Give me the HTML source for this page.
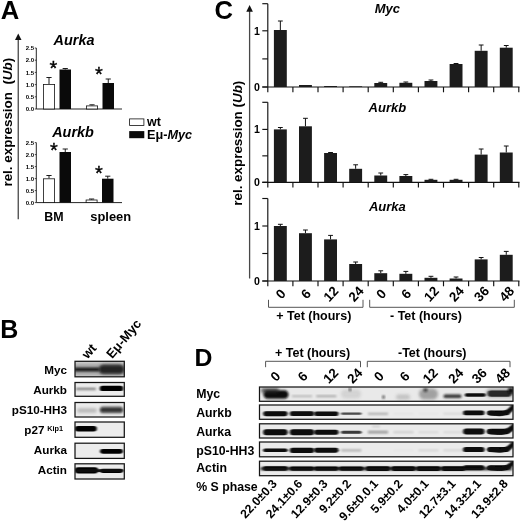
<!DOCTYPE html>
<html lang="en">
<head>
<meta charset="utf-8">
<title>Figure</title>
<style>
html,body{margin:0;padding:0;background:#fff;}
svg{display:block;filter:blur(0.4px);}
text{font-family:"Liberation Sans",sans-serif;}
</style>
</head>
<body>
<svg width="520" height="522" viewBox="0 0 520 522">
<rect width="520" height="522" fill="#fff"/>
<text x="0.8" y="19" font-size="25.6" font-weight="bold" font-style="normal" text-anchor="start" fill="#000">A</text>
<line x1="18.25" y1="38" x2="18.25" y2="219.3" stroke="#484848" stroke-width="1.3"/>
<polygon points="18.25,33.5 15,40 21.5,40" fill="#111"/>
<text x="11.8" y="122.2" font-size="13.4" font-weight="bold" font-style="normal" text-anchor="middle" fill="#000" transform="rotate(-90 11.8 122.2)">rel. expression&#160; (<tspan font-style="italic">Ub</tspan>)</text>
<line x1="36.3" y1="48" x2="36.3" y2="109" stroke="#1a1a1a" stroke-width="0.95"/>
<line x1="36.3" y1="109" x2="122" y2="109" stroke="#1a1a1a" stroke-width="0.95"/>
<line x1="34.8" y1="109.0" x2="36.3" y2="109.0" stroke="#1a1a1a" stroke-width="0.8"/>
<text x="34.099999999999994" y="111.1" font-size="6" font-weight="bold" font-style="normal" text-anchor="end" fill="#000">0.0</text>
<line x1="34.8" y1="96.8" x2="36.3" y2="96.8" stroke="#1a1a1a" stroke-width="0.8"/>
<text x="34.099999999999994" y="98.9" font-size="6" font-weight="bold" font-style="normal" text-anchor="end" fill="#000">0.5</text>
<line x1="34.8" y1="84.6" x2="36.3" y2="84.6" stroke="#1a1a1a" stroke-width="0.8"/>
<text x="34.099999999999994" y="86.7" font-size="6" font-weight="bold" font-style="normal" text-anchor="end" fill="#000">1.0</text>
<line x1="34.8" y1="72.4" x2="36.3" y2="72.4" stroke="#1a1a1a" stroke-width="0.8"/>
<text x="34.099999999999994" y="74.5" font-size="6" font-weight="bold" font-style="normal" text-anchor="end" fill="#000">1.5</text>
<line x1="34.8" y1="60.2" x2="36.3" y2="60.2" stroke="#1a1a1a" stroke-width="0.8"/>
<text x="34.099999999999994" y="62.3" font-size="6" font-weight="bold" font-style="normal" text-anchor="end" fill="#000">2.0</text>
<line x1="34.8" y1="48.0" x2="36.3" y2="48.0" stroke="#1a1a1a" stroke-width="0.8"/>
<text x="34.099999999999994" y="50.1" font-size="6" font-weight="bold" font-style="normal" text-anchor="end" fill="#000">2.5</text>
<text x="74" y="44.7" font-size="14.4" font-weight="bold" font-style="italic" text-anchor="middle" fill="#000">Aurka</text>
<line x1="49.0" y1="77.5" x2="49.0" y2="84" stroke="#111" stroke-width="0.95"/>
<line x1="46.4" y1="77.5" x2="51.6" y2="77.5" stroke="#111" stroke-width="0.95"/>
<rect x="43.4" y="84.4" width="11.2" height="24.6" fill="#fff" stroke="#111" stroke-width="0.8"/>
<line x1="65.25" y1="68.5" x2="65.25" y2="69.5" stroke="#111" stroke-width="0.95"/>
<line x1="62.65" y1="68.5" x2="67.85" y2="68.5" stroke="#111" stroke-width="0.95"/>
<rect x="59.5" y="69.5" width="11.5" height="39.5" fill="#0a0a0a"/>
<line x1="92.0" y1="104.8" x2="92.0" y2="105.5" stroke="#111" stroke-width="0.95"/>
<line x1="89.4" y1="104.8" x2="94.6" y2="104.8" stroke="#111" stroke-width="0.95"/>
<rect x="86.4" y="105.9" width="11.2" height="3.1" fill="#fff" stroke="#111" stroke-width="0.8"/>
<line x1="108.25" y1="79" x2="108.25" y2="83" stroke="#111" stroke-width="0.95"/>
<line x1="105.65" y1="79" x2="110.85" y2="79" stroke="#111" stroke-width="0.95"/>
<rect x="102.5" y="83" width="11.5" height="26" fill="#0a0a0a"/>
<text x="53.5" y="74.5" font-size="20" font-weight="normal" font-style="normal" text-anchor="middle" fill="#000" stroke="#000" stroke-width="0.35">*</text>
<text x="99" y="80.7" font-size="20" font-weight="normal" font-style="normal" text-anchor="middle" fill="#000" stroke="#000" stroke-width="0.35">*</text>
<line x1="36.3" y1="142.6" x2="36.3" y2="202.6" stroke="#1a1a1a" stroke-width="0.95"/>
<line x1="36.3" y1="202.6" x2="122" y2="202.6" stroke="#1a1a1a" stroke-width="0.95"/>
<line x1="34.8" y1="202.6" x2="36.3" y2="202.6" stroke="#1a1a1a" stroke-width="0.8"/>
<text x="34.099999999999994" y="204.7" font-size="6" font-weight="bold" font-style="normal" text-anchor="end" fill="#000">0.0</text>
<line x1="34.8" y1="190.6" x2="36.3" y2="190.6" stroke="#1a1a1a" stroke-width="0.8"/>
<text x="34.099999999999994" y="192.7" font-size="6" font-weight="bold" font-style="normal" text-anchor="end" fill="#000">0.5</text>
<line x1="34.8" y1="178.6" x2="36.3" y2="178.6" stroke="#1a1a1a" stroke-width="0.8"/>
<text x="34.099999999999994" y="180.7" font-size="6" font-weight="bold" font-style="normal" text-anchor="end" fill="#000">1.0</text>
<line x1="34.8" y1="166.6" x2="36.3" y2="166.6" stroke="#1a1a1a" stroke-width="0.8"/>
<text x="34.099999999999994" y="168.7" font-size="6" font-weight="bold" font-style="normal" text-anchor="end" fill="#000">1.5</text>
<line x1="34.8" y1="154.6" x2="36.3" y2="154.6" stroke="#1a1a1a" stroke-width="0.8"/>
<text x="34.099999999999994" y="156.7" font-size="6" font-weight="bold" font-style="normal" text-anchor="end" fill="#000">2.0</text>
<line x1="34.8" y1="142.6" x2="36.3" y2="142.6" stroke="#1a1a1a" stroke-width="0.8"/>
<text x="34.099999999999994" y="144.7" font-size="6" font-weight="bold" font-style="normal" text-anchor="end" fill="#000">2.5</text>
<text x="73" y="137" font-size="14.4" font-weight="bold" font-style="italic" text-anchor="middle" fill="#000">Aurkb</text>
<line x1="49.0" y1="175.5" x2="49.0" y2="178.4" stroke="#111" stroke-width="0.95"/>
<line x1="46.4" y1="175.5" x2="51.6" y2="175.5" stroke="#111" stroke-width="0.95"/>
<rect x="43.4" y="178.8" width="11.2" height="23.79999999999999" fill="#fff" stroke="#111" stroke-width="0.8"/>
<line x1="65.25" y1="149" x2="65.25" y2="152" stroke="#111" stroke-width="0.95"/>
<line x1="62.65" y1="149" x2="67.85" y2="149" stroke="#111" stroke-width="0.95"/>
<rect x="59.5" y="152" width="11.5" height="50.599999999999994" fill="#0a0a0a"/>
<line x1="91.6" y1="199" x2="91.6" y2="199.6" stroke="#111" stroke-width="0.95"/>
<line x1="89.0" y1="199" x2="94.19999999999999" y2="199" stroke="#111" stroke-width="0.95"/>
<rect x="86.10000000000001" y="200.0" width="10.999999999999996" height="2.6" fill="#fff" stroke="#111" stroke-width="0.8"/>
<line x1="107.75" y1="176.2" x2="107.75" y2="178.7" stroke="#111" stroke-width="0.95"/>
<line x1="105.15" y1="176.2" x2="110.35" y2="176.2" stroke="#111" stroke-width="0.95"/>
<rect x="102" y="178.7" width="11.5" height="23.900000000000006" fill="#0a0a0a"/>
<text x="54" y="157" font-size="20" font-weight="normal" font-style="normal" text-anchor="middle" fill="#000" stroke="#000" stroke-width="0.35">*</text>
<text x="99" y="179.8" font-size="20" font-weight="normal" font-style="normal" text-anchor="middle" fill="#000" stroke="#000" stroke-width="0.35">*</text>
<text x="53.9" y="221.3" font-size="12.4" font-weight="bold" font-style="normal" text-anchor="middle" fill="#000">BM</text>
<text x="110.7" y="221.3" font-size="12.9" font-weight="bold" font-style="normal" text-anchor="middle" fill="#000">spleen</text>
<rect x="129.6" y="118.9" width="14.3" height="6.6" fill="#fff" stroke="#111" stroke-width="0.8"/>
<rect x="129.2" y="131.1" width="15.1" height="7.1" fill="#0a0a0a"/>
<text x="147" y="125.9" font-size="12.5" font-weight="bold" font-style="normal" text-anchor="start" fill="#000">wt</text>
<text x="147" y="138.6" font-size="12.7" font-weight="bold" font-style="normal" text-anchor="start" fill="#000">E&#956;-<tspan font-style="italic">Myc</tspan></text>
<text x="214.5" y="19.3" font-size="25.6" font-weight="bold" font-style="normal" text-anchor="start" fill="#000">C</text>
<line x1="249.6" y1="10" x2="249.6" y2="278.5" stroke="#484848" stroke-width="1.3"/>
<polygon points="249.6,5 246.3,11.7 252.9,11.7" fill="#111"/>
<text x="241.9" y="143.2" font-size="13.4" font-weight="bold" font-style="normal" text-anchor="middle" fill="#000" transform="rotate(-90 241.9 143.2)">rel. expression (<tspan font-style="italic">Ub</tspan>)</text>
<line x1="267.8" y1="3.7" x2="267.8" y2="87" stroke="#111" stroke-width="1.15"/>
<line x1="262.3" y1="87" x2="519.5" y2="87" stroke="#111" stroke-width="1.15"/>
<line x1="262.3" y1="3.7" x2="267.8" y2="3.7" stroke="#111" stroke-width="1.15"/>
<line x1="262.3" y1="30.8" x2="267.8" y2="30.8" stroke="#111" stroke-width="1.15"/>
<line x1="262.3" y1="58.9" x2="267.8" y2="58.9" stroke="#111" stroke-width="1.15"/>
<line x1="262.3" y1="87" x2="267.8" y2="87" stroke="#111" stroke-width="1.15"/>
<text x="259.8" y="34.6" font-size="10.6" font-weight="bold" font-style="normal" text-anchor="end" fill="#000">1</text>
<text x="259.8" y="90.8" font-size="10.6" font-weight="bold" font-style="normal" text-anchor="end" fill="#000">0</text>
<line x1="267.8" y1="87" x2="267.8" y2="92.3" stroke="#111" stroke-width="1.15"/>
<line x1="292.90000000000003" y1="87" x2="292.90000000000003" y2="92.3" stroke="#111" stroke-width="1.15"/>
<line x1="318.0" y1="87" x2="318.0" y2="92.3" stroke="#111" stroke-width="1.15"/>
<line x1="343.1" y1="87" x2="343.1" y2="92.3" stroke="#111" stroke-width="1.15"/>
<line x1="368.20000000000005" y1="87" x2="368.20000000000005" y2="92.3" stroke="#111" stroke-width="1.15"/>
<line x1="393.3" y1="87" x2="393.3" y2="92.3" stroke="#111" stroke-width="1.15"/>
<line x1="418.40000000000003" y1="87" x2="418.40000000000003" y2="92.3" stroke="#111" stroke-width="1.15"/>
<line x1="443.5" y1="87" x2="443.5" y2="92.3" stroke="#111" stroke-width="1.15"/>
<line x1="468.6" y1="87" x2="468.6" y2="92.3" stroke="#111" stroke-width="1.15"/>
<line x1="493.70000000000005" y1="87" x2="493.70000000000005" y2="92.3" stroke="#111" stroke-width="1.15"/>
<line x1="518.8" y1="87" x2="518.8" y2="92.3" stroke="#111" stroke-width="1.15"/>
<text x="387.4" y="12.5" font-size="13" font-weight="bold" font-style="italic" text-anchor="middle" fill="#000">Myc</text>
<line x1="280.35" y1="21" x2="280.35" y2="30" stroke="#111" stroke-width="1"/>
<line x1="277.95000000000005" y1="21" x2="282.75" y2="21" stroke="#111" stroke-width="1"/>
<rect x="273.90000000000003" y="30" width="12.9" height="57" fill="#1c1c1c"/>
<rect x="299.00000000000006" y="85" width="12.9" height="2" fill="#1c1c1c"/>
<rect x="324.1" y="86" width="12.9" height="1" fill="#1c1c1c"/>
<rect x="349.20000000000005" y="86.3" width="12.9" height="0.7000000000000028" fill="#1c1c1c"/>
<line x1="380.75" y1="82.3" x2="380.75" y2="83" stroke="#111" stroke-width="1"/>
<line x1="378.35" y1="82.3" x2="383.15" y2="82.3" stroke="#111" stroke-width="1"/>
<rect x="374.3" y="83" width="12.9" height="4" fill="#1c1c1c"/>
<line x1="405.85" y1="82" x2="405.85" y2="82.8" stroke="#111" stroke-width="1"/>
<line x1="403.45000000000005" y1="82" x2="408.25" y2="82" stroke="#111" stroke-width="1"/>
<rect x="399.40000000000003" y="82.8" width="12.9" height="4.200000000000003" fill="#1c1c1c"/>
<line x1="430.95000000000005" y1="80" x2="430.95000000000005" y2="81" stroke="#111" stroke-width="1"/>
<line x1="428.55000000000007" y1="80" x2="433.35" y2="80" stroke="#111" stroke-width="1"/>
<rect x="424.50000000000006" y="81" width="12.9" height="6" fill="#1c1c1c"/>
<line x1="456.05" y1="63.5" x2="456.05" y2="64" stroke="#111" stroke-width="1"/>
<line x1="453.65000000000003" y1="63.5" x2="458.45" y2="63.5" stroke="#111" stroke-width="1"/>
<rect x="449.6" y="64" width="12.9" height="23" fill="#1c1c1c"/>
<line x1="481.15000000000003" y1="45" x2="481.15000000000003" y2="50.8" stroke="#111" stroke-width="1"/>
<line x1="478.75000000000006" y1="45" x2="483.55" y2="45" stroke="#111" stroke-width="1"/>
<rect x="474.70000000000005" y="50.8" width="12.9" height="36.2" fill="#1c1c1c"/>
<line x1="506.25" y1="45.5" x2="506.25" y2="47.7" stroke="#111" stroke-width="1"/>
<line x1="503.85" y1="45.5" x2="508.65" y2="45.5" stroke="#111" stroke-width="1"/>
<rect x="499.8" y="47.7" width="12.9" height="39.3" fill="#1c1c1c"/>
<line x1="267.8" y1="102.3" x2="267.8" y2="182.3" stroke="#111" stroke-width="1.15"/>
<line x1="262.3" y1="182.3" x2="519.5" y2="182.3" stroke="#111" stroke-width="1.15"/>
<line x1="262.3" y1="102.3" x2="267.8" y2="102.3" stroke="#111" stroke-width="1.15"/>
<line x1="262.3" y1="129.4" x2="267.8" y2="129.4" stroke="#111" stroke-width="1.15"/>
<line x1="262.3" y1="155.85000000000002" x2="267.8" y2="155.85000000000002" stroke="#111" stroke-width="1.15"/>
<line x1="262.3" y1="182.3" x2="267.8" y2="182.3" stroke="#111" stroke-width="1.15"/>
<text x="259.8" y="133.20000000000002" font-size="10.6" font-weight="bold" font-style="normal" text-anchor="end" fill="#000">1</text>
<text x="259.8" y="186.10000000000002" font-size="10.6" font-weight="bold" font-style="normal" text-anchor="end" fill="#000">0</text>
<line x1="267.8" y1="182.3" x2="267.8" y2="187.60000000000002" stroke="#111" stroke-width="1.15"/>
<line x1="292.90000000000003" y1="182.3" x2="292.90000000000003" y2="187.60000000000002" stroke="#111" stroke-width="1.15"/>
<line x1="318.0" y1="182.3" x2="318.0" y2="187.60000000000002" stroke="#111" stroke-width="1.15"/>
<line x1="343.1" y1="182.3" x2="343.1" y2="187.60000000000002" stroke="#111" stroke-width="1.15"/>
<line x1="368.20000000000005" y1="182.3" x2="368.20000000000005" y2="187.60000000000002" stroke="#111" stroke-width="1.15"/>
<line x1="393.3" y1="182.3" x2="393.3" y2="187.60000000000002" stroke="#111" stroke-width="1.15"/>
<line x1="418.40000000000003" y1="182.3" x2="418.40000000000003" y2="187.60000000000002" stroke="#111" stroke-width="1.15"/>
<line x1="443.5" y1="182.3" x2="443.5" y2="187.60000000000002" stroke="#111" stroke-width="1.15"/>
<line x1="468.6" y1="182.3" x2="468.6" y2="187.60000000000002" stroke="#111" stroke-width="1.15"/>
<line x1="493.70000000000005" y1="182.3" x2="493.70000000000005" y2="187.60000000000002" stroke="#111" stroke-width="1.15"/>
<line x1="518.8" y1="182.3" x2="518.8" y2="187.60000000000002" stroke="#111" stroke-width="1.15"/>
<text x="387.4" y="111.5" font-size="13" font-weight="bold" font-style="italic" text-anchor="middle" fill="#000">Aurkb</text>
<line x1="280.35" y1="127.5" x2="280.35" y2="129.4" stroke="#111" stroke-width="1"/>
<line x1="277.95000000000005" y1="127.5" x2="282.75" y2="127.5" stroke="#111" stroke-width="1"/>
<rect x="273.90000000000003" y="129.4" width="12.9" height="52.900000000000006" fill="#1c1c1c"/>
<line x1="305.45000000000005" y1="118.3" x2="305.45000000000005" y2="126.3" stroke="#111" stroke-width="1"/>
<line x1="303.05000000000007" y1="118.3" x2="307.85" y2="118.3" stroke="#111" stroke-width="1"/>
<rect x="299.00000000000006" y="126.3" width="12.9" height="56.000000000000014" fill="#1c1c1c"/>
<line x1="330.55" y1="152.5" x2="330.55" y2="153" stroke="#111" stroke-width="1"/>
<line x1="328.15000000000003" y1="152.5" x2="332.95" y2="152.5" stroke="#111" stroke-width="1"/>
<rect x="324.1" y="153" width="12.9" height="29.30000000000001" fill="#1c1c1c"/>
<line x1="355.65000000000003" y1="164.8" x2="355.65000000000003" y2="168.8" stroke="#111" stroke-width="1"/>
<line x1="353.25000000000006" y1="164.8" x2="358.05" y2="164.8" stroke="#111" stroke-width="1"/>
<rect x="349.20000000000005" y="168.8" width="12.9" height="13.5" fill="#1c1c1c"/>
<line x1="380.75" y1="173" x2="380.75" y2="175.5" stroke="#111" stroke-width="1"/>
<line x1="378.35" y1="173" x2="383.15" y2="173" stroke="#111" stroke-width="1"/>
<rect x="374.3" y="175.5" width="12.9" height="6.800000000000011" fill="#1c1c1c"/>
<line x1="405.85" y1="174.6" x2="405.85" y2="176" stroke="#111" stroke-width="1"/>
<line x1="403.45000000000005" y1="174.6" x2="408.25" y2="174.6" stroke="#111" stroke-width="1"/>
<rect x="399.40000000000003" y="176" width="12.9" height="6.300000000000011" fill="#1c1c1c"/>
<line x1="430.95000000000005" y1="179.3" x2="430.95000000000005" y2="179.8" stroke="#111" stroke-width="1"/>
<line x1="428.55000000000007" y1="179.3" x2="433.35" y2="179.3" stroke="#111" stroke-width="1"/>
<rect x="424.50000000000006" y="179.8" width="12.9" height="2.5" fill="#1c1c1c"/>
<line x1="456.05" y1="179.3" x2="456.05" y2="179.8" stroke="#111" stroke-width="1"/>
<line x1="453.65000000000003" y1="179.3" x2="458.45" y2="179.3" stroke="#111" stroke-width="1"/>
<rect x="449.6" y="179.8" width="12.9" height="2.5" fill="#1c1c1c"/>
<line x1="481.15000000000003" y1="149" x2="481.15000000000003" y2="154.6" stroke="#111" stroke-width="1"/>
<line x1="478.75000000000006" y1="149" x2="483.55" y2="149" stroke="#111" stroke-width="1"/>
<rect x="474.70000000000005" y="154.6" width="12.9" height="27.700000000000017" fill="#1c1c1c"/>
<line x1="506.25" y1="146" x2="506.25" y2="152.5" stroke="#111" stroke-width="1"/>
<line x1="503.85" y1="146" x2="508.65" y2="146" stroke="#111" stroke-width="1"/>
<rect x="499.8" y="152.5" width="12.9" height="29.80000000000001" fill="#1c1c1c"/>
<line x1="267.8" y1="198.5" x2="267.8" y2="281" stroke="#111" stroke-width="1.15"/>
<line x1="262.3" y1="281" x2="519.5" y2="281" stroke="#111" stroke-width="1.15"/>
<line x1="262.3" y1="198.5" x2="267.8" y2="198.5" stroke="#111" stroke-width="1.15"/>
<line x1="262.3" y1="226" x2="267.8" y2="226" stroke="#111" stroke-width="1.15"/>
<line x1="262.3" y1="253.5" x2="267.8" y2="253.5" stroke="#111" stroke-width="1.15"/>
<line x1="262.3" y1="281" x2="267.8" y2="281" stroke="#111" stroke-width="1.15"/>
<text x="259.8" y="229.8" font-size="10.6" font-weight="bold" font-style="normal" text-anchor="end" fill="#000">1</text>
<text x="259.8" y="284.8" font-size="10.6" font-weight="bold" font-style="normal" text-anchor="end" fill="#000">0</text>
<line x1="267.8" y1="281" x2="267.8" y2="286.3" stroke="#111" stroke-width="1.15"/>
<line x1="292.90000000000003" y1="281" x2="292.90000000000003" y2="286.3" stroke="#111" stroke-width="1.15"/>
<line x1="318.0" y1="281" x2="318.0" y2="286.3" stroke="#111" stroke-width="1.15"/>
<line x1="343.1" y1="281" x2="343.1" y2="286.3" stroke="#111" stroke-width="1.15"/>
<line x1="368.20000000000005" y1="281" x2="368.20000000000005" y2="286.3" stroke="#111" stroke-width="1.15"/>
<line x1="393.3" y1="281" x2="393.3" y2="286.3" stroke="#111" stroke-width="1.15"/>
<line x1="418.40000000000003" y1="281" x2="418.40000000000003" y2="286.3" stroke="#111" stroke-width="1.15"/>
<line x1="443.5" y1="281" x2="443.5" y2="286.3" stroke="#111" stroke-width="1.15"/>
<line x1="468.6" y1="281" x2="468.6" y2="286.3" stroke="#111" stroke-width="1.15"/>
<line x1="493.70000000000005" y1="281" x2="493.70000000000005" y2="286.3" stroke="#111" stroke-width="1.15"/>
<line x1="518.8" y1="281" x2="518.8" y2="286.3" stroke="#111" stroke-width="1.15"/>
<text x="387.4" y="210.5" font-size="13" font-weight="bold" font-style="italic" text-anchor="middle" fill="#000">Aurka</text>
<line x1="280.35" y1="224.3" x2="280.35" y2="226" stroke="#111" stroke-width="1"/>
<line x1="277.95000000000005" y1="224.3" x2="282.75" y2="224.3" stroke="#111" stroke-width="1"/>
<rect x="273.90000000000003" y="226" width="12.9" height="55" fill="#1c1c1c"/>
<line x1="305.45000000000005" y1="230" x2="305.45000000000005" y2="233.2" stroke="#111" stroke-width="1"/>
<line x1="303.05000000000007" y1="230" x2="307.85" y2="230" stroke="#111" stroke-width="1"/>
<rect x="299.00000000000006" y="233.2" width="12.9" height="47.80000000000001" fill="#1c1c1c"/>
<line x1="330.55" y1="235.4" x2="330.55" y2="239.4" stroke="#111" stroke-width="1"/>
<line x1="328.15000000000003" y1="235.4" x2="332.95" y2="235.4" stroke="#111" stroke-width="1"/>
<rect x="324.1" y="239.4" width="12.9" height="41.599999999999994" fill="#1c1c1c"/>
<line x1="355.65000000000003" y1="262" x2="355.65000000000003" y2="264" stroke="#111" stroke-width="1"/>
<line x1="353.25000000000006" y1="262" x2="358.05" y2="262" stroke="#111" stroke-width="1"/>
<rect x="349.20000000000005" y="264" width="12.9" height="17" fill="#1c1c1c"/>
<line x1="380.75" y1="270.8" x2="380.75" y2="273.2" stroke="#111" stroke-width="1"/>
<line x1="378.35" y1="270.8" x2="383.15" y2="270.8" stroke="#111" stroke-width="1"/>
<rect x="374.3" y="273.2" width="12.9" height="7.800000000000011" fill="#1c1c1c"/>
<line x1="405.85" y1="271.4" x2="405.85" y2="273.8" stroke="#111" stroke-width="1"/>
<line x1="403.45000000000005" y1="271.4" x2="408.25" y2="271.4" stroke="#111" stroke-width="1"/>
<rect x="399.40000000000003" y="273.8" width="12.9" height="7.199999999999989" fill="#1c1c1c"/>
<line x1="430.95000000000005" y1="276.3" x2="430.95000000000005" y2="277.8" stroke="#111" stroke-width="1"/>
<line x1="428.55000000000007" y1="276.3" x2="433.35" y2="276.3" stroke="#111" stroke-width="1"/>
<rect x="424.50000000000006" y="277.8" width="12.9" height="3.1999999999999886" fill="#1c1c1c"/>
<line x1="456.05" y1="277" x2="456.05" y2="278.5" stroke="#111" stroke-width="1"/>
<line x1="453.65000000000003" y1="277" x2="458.45" y2="277" stroke="#111" stroke-width="1"/>
<rect x="449.6" y="278.5" width="12.9" height="2.5" fill="#1c1c1c"/>
<line x1="481.15000000000003" y1="257.5" x2="481.15000000000003" y2="259.4" stroke="#111" stroke-width="1"/>
<line x1="478.75000000000006" y1="257.5" x2="483.55" y2="257.5" stroke="#111" stroke-width="1"/>
<rect x="474.70000000000005" y="259.4" width="12.9" height="21.600000000000023" fill="#1c1c1c"/>
<line x1="506.25" y1="251.4" x2="506.25" y2="254.8" stroke="#111" stroke-width="1"/>
<line x1="503.85" y1="251.4" x2="508.65" y2="251.4" stroke="#111" stroke-width="1"/>
<rect x="499.8" y="254.8" width="12.9" height="26.19999999999999" fill="#1c1c1c"/>
<g transform="translate(280.65000000000003 293.8) rotate(-47)"><text x="0" y="4.7" font-size="13.3" font-weight="bold" font-style="normal" text-anchor="middle" fill="#000">0</text></g>
<g transform="translate(305.75000000000006 293.8) rotate(-47)"><text x="0" y="4.7" font-size="13.3" font-weight="bold" font-style="normal" text-anchor="middle" fill="#000">6</text></g>
<g transform="translate(330.85 293.8) rotate(-47)"><text x="0" y="4.7" font-size="13.3" font-weight="bold" font-style="normal" text-anchor="middle" fill="#000">12</text></g>
<g transform="translate(355.95000000000005 293.8) rotate(-47)"><text x="0" y="4.7" font-size="13.3" font-weight="bold" font-style="normal" text-anchor="middle" fill="#000">24</text></g>
<g transform="translate(381.05 293.8) rotate(-47)"><text x="0" y="4.7" font-size="13.3" font-weight="bold" font-style="normal" text-anchor="middle" fill="#000">0</text></g>
<g transform="translate(406.15000000000003 293.8) rotate(-47)"><text x="0" y="4.7" font-size="13.3" font-weight="bold" font-style="normal" text-anchor="middle" fill="#000">6</text></g>
<g transform="translate(431.25000000000006 293.8) rotate(-47)"><text x="0" y="4.7" font-size="13.3" font-weight="bold" font-style="normal" text-anchor="middle" fill="#000">12</text></g>
<g transform="translate(456.35 293.8) rotate(-47)"><text x="0" y="4.7" font-size="13.3" font-weight="bold" font-style="normal" text-anchor="middle" fill="#000">24</text></g>
<g transform="translate(481.45000000000005 293.8) rotate(-47)"><text x="0" y="4.7" font-size="13.3" font-weight="bold" font-style="normal" text-anchor="middle" fill="#000">36</text></g>
<g transform="translate(506.55 293.8) rotate(-47)"><text x="0" y="4.7" font-size="13.3" font-weight="bold" font-style="normal" text-anchor="middle" fill="#000">48</text></g>
<polyline points="268.5,299.8 268.5,307.3 363,307.3 363,299.8" fill="none" stroke="#555" stroke-width="1"/>
<polyline points="369.7,299.8 369.7,307.3 514.3,307.3 514.3,299.8" fill="none" stroke="#555" stroke-width="1"/>
<text x="313.8" y="320" font-size="12.5" font-weight="bold" font-style="normal" text-anchor="middle" fill="#000">+ Tet (hours)</text>
<text x="426" y="320" font-size="12.5" font-weight="bold" font-style="normal" text-anchor="middle" fill="#000">- Tet (hours)</text>
<text x="0.3" y="338.4" font-size="25" font-weight="bold" font-style="normal" text-anchor="start" fill="#000">B</text>
<defs>
<filter id="b1" x="-20%" y="-100%" width="140%" height="300%"><feGaussianBlur stdDeviation="1.1 0.8"/></filter>
<filter id="b0" x="-20%" y="-100%" width="140%" height="300%"><feGaussianBlur stdDeviation="0.8 0.55"/></filter>
<filter id="b2" x="-20%" y="-100%" width="140%" height="300%"><feGaussianBlur stdDeviation="1.8 1.4"/></filter>
</defs>
<text x="67" y="373.6" font-size="11.7" font-weight="bold" font-style="normal" text-anchor="end" fill="#000">Myc</text>
<text x="67" y="393.7" font-size="11.7" font-weight="bold" font-style="normal" text-anchor="end" fill="#000">Aurkb</text>
<text x="67" y="414" font-size="11.7" font-weight="bold" font-style="normal" text-anchor="end" fill="#000">pS10-HH3</text>
<text x="67" y="453.7" font-size="11.7" font-weight="bold" font-style="normal" text-anchor="end" fill="#000">Aurka</text>
<text x="67" y="473.7" font-size="11.7" font-weight="bold" font-style="normal" text-anchor="end" fill="#000">Actin</text>
<text x="44.5" y="434.3" font-size="11.7" font-weight="bold" font-style="normal" text-anchor="end" fill="#000">p27</text>
<text x="47.3" y="431" font-size="7.3" font-weight="bold" font-style="normal" text-anchor="start" fill="#000">Kip1</text>
<clipPath id="c1"><rect x="75" y="361.3" width="49.3" height="15.5"/></clipPath>
<rect x="75" y="361.3" width="49.3" height="15.5" fill="#d6d6d6"/>
<g clip-path="url(#c1)">
<rect x="70.0" y="363.5" width="60" height="12" rx="6.0" fill="#777" opacity="0.5" filter="url(#b2)"/>
<rect x="74.0" y="367.7" width="26" height="3.6" rx="1.8" fill="#0a0a0a" opacity="1" filter="url(#b1)"/>
<rect x="99.5" y="365.40000000000003" width="24" height="7.8" rx="3.9" fill="#0d0d0d" opacity="0.95" filter="url(#b1)"/>
<rect x="98.5" y="363.8" width="26" height="11" rx="5.5" fill="#333" opacity="0.5" filter="url(#b2)"/>
</g>
<rect x="75" y="361.3" width="49.3" height="15.5" fill="none" stroke="#151515" stroke-width="1.25"/>
<clipPath id="c2"><rect x="75" y="382.5" width="49.3" height="13.800000000000011"/></clipPath>
<rect x="75" y="382.5" width="49.3" height="13.800000000000011" fill="#ececec"/>
<g clip-path="url(#c2)">
<rect x="76.0" y="388.04999999999995" width="20" height="1.7" rx="0.85" fill="#333" opacity="0.75" filter="url(#b1)"/>
<rect x="99.75" y="385.79999999999995" width="23.5" height="5.2" rx="2.6" fill="#050505" opacity="1" filter="url(#b0)"/>
</g>
<rect x="75" y="382.5" width="49.3" height="13.800000000000011" fill="none" stroke="#151515" stroke-width="1.25"/>
<clipPath id="c3"><rect x="75" y="402.5" width="49.3" height="14.5"/></clipPath>
<rect x="75" y="402.5" width="49.3" height="14.5" fill="#ececec"/>
<g clip-path="url(#c3)">
<rect x="77.0" y="408.25" width="20" height="4.5" rx="2.25" fill="#777" opacity="0.45" filter="url(#b2)"/>
<rect x="100.25" y="407.29999999999995" width="22.5" height="5.2" rx="2.6" fill="#0a0a0a" opacity="1" filter="url(#b1)"/>
<rect x="99.5" y="405.7" width="24" height="8" rx="4.0" fill="#777" opacity="0.35" filter="url(#b2)"/>
</g>
<rect x="75" y="402.5" width="49.3" height="14.5" fill="none" stroke="#151515" stroke-width="1.25"/>
<clipPath id="c4"><rect x="75" y="422" width="49.3" height="15.300000000000011"/></clipPath>
<rect x="75" y="422" width="49.3" height="15.300000000000011" fill="#ececec"/>
<g clip-path="url(#c4)">
<rect x="74.8" y="426.0" width="22" height="5.4" rx="2.7" fill="#050505" opacity="1" filter="url(#b0)"/>
</g>
<rect x="75" y="422" width="49.3" height="15.300000000000011" fill="none" stroke="#151515" stroke-width="1.25"/>
<clipPath id="c5"><rect x="75" y="443.2" width="49.3" height="15.199999999999989"/></clipPath>
<rect x="75" y="443.2" width="49.3" height="15.199999999999989" fill="#ececec"/>
<g clip-path="url(#c5)">
<rect x="100.0" y="448.90000000000003" width="23" height="4.8" rx="2.4" fill="#050505" opacity="1" filter="url(#b0)"/>
</g>
<rect x="75" y="443.2" width="49.3" height="15.199999999999989" fill="none" stroke="#151515" stroke-width="1.25"/>
<clipPath id="c6"><rect x="75" y="463.8" width="49.3" height="15.199999999999989"/></clipPath>
<rect x="75" y="463.8" width="49.3" height="15.199999999999989" fill="#ececec"/>
<g clip-path="url(#c6)">
<rect x="74.75" y="467.2" width="23.5" height="6.2" rx="3.1" fill="#050505" opacity="1" filter="url(#b0)"/>
<rect x="100.0" y="468.7" width="23" height="4.2" rx="2.1" fill="#050505" opacity="1" filter="url(#b0)"/>
<rect x="77.0" y="469.20000000000005" width="46" height="2.8" rx="1.4" fill="#111" opacity="0.95" filter="url(#b0)"/>
</g>
<rect x="75" y="463.8" width="49.3" height="15.199999999999989" fill="none" stroke="#151515" stroke-width="1.25"/>
<text x="87.5" y="359.5" font-size="13" font-weight="bold" font-style="normal" text-anchor="start" fill="#000" transform="rotate(-48 87.5 359.5)">wt</text>
<text x="112.3" y="359.3" font-size="13" font-weight="bold" font-style="normal" text-anchor="start" fill="#000" transform="rotate(-50 112.3 359.3)">E&#956;-Myc</text>
<text x="194.5" y="365.8" font-size="24.8" font-weight="bold" font-style="normal" text-anchor="start" fill="#000">D</text>
<text x="196.2" y="398" font-size="12.3" font-weight="bold" font-style="normal" text-anchor="start" fill="#000">Myc</text>
<text x="196.2" y="417" font-size="12.3" font-weight="bold" font-style="normal" text-anchor="start" fill="#000">Aurkb</text>
<text x="196.2" y="435.5" font-size="12.3" font-weight="bold" font-style="normal" text-anchor="start" fill="#000">Aurka</text>
<text x="196.2" y="455" font-size="12.3" font-weight="bold" font-style="normal" text-anchor="start" fill="#000">pS10-HH3</text>
<text x="196.2" y="471.9" font-size="12.3" font-weight="bold" font-style="normal" text-anchor="start" fill="#000">Actin</text>
<text x="196.2" y="491.2" font-size="12.3" font-weight="bold" font-style="normal" text-anchor="start" fill="#000">% S phase</text>
<clipPath id="c7"><rect x="259.5" y="387" width="253.5" height="14.300000000000011"/></clipPath>
<rect x="259.5" y="387" width="253.5" height="14.300000000000011" fill="#e9e9e9"/>
<g clip-path="url(#c7)">
<rect x="291.75" y="395.616" width="20.5" height="1.3680000000000003" rx="0.6840000000000002" fill="#080808" opacity="0.273" filter="url(#b1)"/>
<rect x="316.05" y="395.54400000000004" width="20.5" height="1.512" rx="0.756" fill="#080808" opacity="0.35700000000000004" filter="url(#b1)"/>
<rect x="263.5" y="390.25" width="25" height="8.5" rx="4.25" fill="#0a0a0a" opacity="1" filter="url(#b1)"/>
<rect x="261.0" y="388.0" width="18" height="5" rx="2.5" fill="#222" opacity="0.7" filter="url(#b2)"/>
<rect x="341.0" y="389.5" width="20" height="9" rx="4.5" fill="#888" opacity="0.22" filter="url(#b2)"/>
<rect x="348.75" y="388.25" width="2.5" height="2.5" rx="1.25" fill="#111" opacity="0.9" filter="url(#b1)"/>
<rect x="382.25" y="395.5" width="2.5" height="3" rx="1.5" fill="#111" opacity="0.9" filter="url(#b1)"/>
<rect x="396.0" y="394.5" width="14" height="5" rx="2.5" fill="#888" opacity="0.4" filter="url(#b2)"/>
<rect x="419.0" y="388.5" width="19" height="11" rx="5.5" fill="#666" opacity="0.55" filter="url(#b2)"/>
<rect x="423.5" y="388.25" width="4" height="3.5" rx="1.75" fill="#111" opacity="0.8" filter="url(#b1)"/>
<rect x="443.5" y="394.5" width="18" height="3.4" rx="1.7" fill="#1a1a1a" opacity="0.9" filter="url(#b1)"/>
<rect x="464.8" y="393.2" width="21" height="3.6" rx="1.8" fill="#0a0a0a" opacity="1" filter="url(#b0)"/>
<rect x="487.75" y="390.5" width="23.5" height="6.2" rx="3.1" fill="#0a0a0a" opacity="1" filter="url(#b0)"/>
<rect x="486.0" y="388.5" width="28" height="9" rx="4.5" fill="#555" opacity="0.4" filter="url(#b2)"/>
<rect x="507.8" y="387.8" width="6" height="6" rx="3.0" fill="#0a0a0a" opacity="1" filter="url(#b1)"/>
</g>
<rect x="259.5" y="387" width="253.5" height="14.300000000000011" fill="none" stroke="#151515" stroke-width="1.25"/>
<clipPath id="c8"><rect x="259.5" y="405" width="253.5" height="14.300000000000011"/></clipPath>
<rect x="259.5" y="405" width="253.5" height="14.300000000000011" fill="#ebebeb"/>
<g clip-path="url(#c8)">
<rect x="263.15" y="411.25" width="24.5" height="4.9" rx="2.45" fill="#080808" opacity="1" filter="url(#b0)"/>
<rect x="289.75" y="411.348" width="24.5" height="4.704" rx="2.352" fill="#080808" opacity="1" filter="url(#b0)"/>
<rect x="314.05" y="411.44599999999997" width="24.5" height="4.508000000000001" rx="2.2540000000000004" fill="#080808" opacity="1" filter="url(#b0)"/>
<rect x="341.05" y="412.54359999999997" width="20.5" height="2.3128" rx="1.1564" fill="#080808" opacity="0.7140000000000001" filter="url(#b0)"/>
<rect x="367.75" y="412.8768" width="20.5" height="1.6464000000000003" rx="0.8232000000000002" fill="#080808" opacity="0.35700000000000004" filter="url(#b1)"/>
<rect x="393.25" y="413.15119999999996" width="20.5" height="1.0976000000000001" rx="0.5488000000000001" fill="#080808" opacity="0.063" filter="url(#b1)"/>
<rect x="418.25" y="413.1708" width="20.5" height="1.0584000000000002" rx="0.5292000000000001" fill="#080808" opacity="0.042" filter="url(#b1)"/>
<rect x="443.25" y="413.0924" width="20.5" height="1.2152" rx="0.6076" fill="#080808" opacity="0.126" filter="url(#b1)"/>
<rect x="463.05" y="410.548" width="21.5" height="4.704" rx="2.352" fill="#080808" opacity="1" filter="url(#b0)"/>
<rect x="487.5" y="410.45" width="22" height="4.9" rx="2.45" fill="#080808" opacity="1" filter="url(#b0)"/>
<path d="M490,413.09999999999997 L500,413.79999999999995 Q508,413.79999999999995 513.5,406.4" fill="none" stroke="#080808" stroke-width="4.655" stroke-linecap="round" filter="url(#b0)"/>
</g>
<rect x="259.5" y="405" width="253.5" height="14.300000000000011" fill="none" stroke="#151515" stroke-width="1.25"/>
<clipPath id="c9"><rect x="259.5" y="423.8" width="253.5" height="14.199999999999989"/></clipPath>
<rect x="259.5" y="423.8" width="253.5" height="14.199999999999989" fill="#ebebeb"/>
<g clip-path="url(#c9)">
<rect x="263.15" y="429.2" width="24.5" height="6.0" rx="3.0" fill="#080808" opacity="1" filter="url(#b0)"/>
<rect x="289.75" y="429.2" width="24.5" height="6.0" rx="3.0" fill="#080808" opacity="1" filter="url(#b0)"/>
<rect x="314.05" y="429.68" width="24.5" height="5.040000000000001" rx="2.5200000000000005" fill="#080808" opacity="1" filter="url(#b0)"/>
<rect x="341.05" y="430.688" width="20.5" height="3.024" rx="1.512" fill="#080808" opacity="0.798" filter="url(#b0)"/>
<rect x="367.75" y="431.12" width="20.5" height="2.16" rx="1.08" fill="#080808" opacity="0.42000000000000004" filter="url(#b1)"/>
<rect x="393.25" y="431.408" width="20.5" height="1.584" rx="0.792" fill="#080808" opacity="0.168" filter="url(#b1)"/>
<rect x="418.25" y="431.47999999999996" width="20.5" height="1.4400000000000002" rx="0.7200000000000001" fill="#080808" opacity="0.10500000000000001" filter="url(#b1)"/>
<rect x="443.25" y="431.47999999999996" width="20.5" height="1.4400000000000002" rx="0.7200000000000001" fill="#080808" opacity="0.10500000000000001" filter="url(#b1)"/>
<rect x="463.05" y="428.4" width="21.5" height="6.0" rx="3.0" fill="#080808" opacity="1" filter="url(#b0)"/>
<rect x="487.5" y="428.64" width="22" height="5.520000000000001" rx="2.7600000000000007" fill="#080808" opacity="1" filter="url(#b0)"/>
<rect x="372.0" y="425.9" width="8" height="1.2" rx="0.6" fill="#666" opacity="0.4" filter="url(#b1)"/>
<path d="M490,431.59999999999997 L500,432.29999999999995 Q508,432.29999999999995 513.5,426.9" fill="none" stroke="#080808" stroke-width="5.244000000000001" stroke-linecap="round" filter="url(#b0)"/>
</g>
<rect x="259.5" y="423.8" width="253.5" height="14.199999999999989" fill="none" stroke="#151515" stroke-width="1.25"/>
<clipPath id="c10"><rect x="259.5" y="442" width="253.5" height="14.800000000000011"/></clipPath>
<rect x="259.5" y="442" width="253.5" height="14.800000000000011" fill="#ebebeb"/>
<g clip-path="url(#c10)">
<rect x="263.15" y="448.53200000000004" width="24.5" height="3.5359999999999996" rx="1.7679999999999998" fill="#080808" opacity="1" filter="url(#b0)"/>
<rect x="289.75" y="447.7" width="24.5" height="5.2" rx="2.6" fill="#080808" opacity="1" filter="url(#b0)"/>
<rect x="314.05" y="447.80400000000003" width="24.5" height="4.992" rx="2.496" fill="#080808" opacity="1" filter="url(#b0)"/>
<rect x="341.05" y="449.468" width="20.5" height="1.6640000000000001" rx="0.8320000000000001" fill="#080808" opacity="0.315" filter="url(#b1)"/>
<rect x="393.25" y="449.7384" width="20.5" height="1.1232000000000002" rx="0.5616000000000001" fill="#080808" opacity="0.042" filter="url(#b1)"/>
<rect x="418.25" y="449.6344" width="20.5" height="1.3312000000000002" rx="0.6656000000000001" fill="#080808" opacity="0.14700000000000002" filter="url(#b1)"/>
<rect x="443.25" y="449.6344" width="20.5" height="1.3312000000000002" rx="0.6656000000000001" fill="#080808" opacity="0.14700000000000002" filter="url(#b1)"/>
<rect x="463.05" y="446.9" width="21.5" height="5.2" rx="2.6" fill="#080808" opacity="1" filter="url(#b0)"/>
<rect x="487.5" y="447.108" width="22" height="4.784000000000001" rx="2.3920000000000003" fill="#080808" opacity="1" filter="url(#b0)"/>
<path d="M490,449.7 L500,450.4 Q508,450.4 513.5,443.5" fill="none" stroke="#080808" stroke-width="4.5448" stroke-linecap="round" filter="url(#b0)"/>
</g>
<rect x="259.5" y="442" width="253.5" height="14.800000000000011" fill="none" stroke="#151515" stroke-width="1.25"/>
<clipPath id="c11"><rect x="259.5" y="461.2" width="253.5" height="14.5"/></clipPath>
<rect x="259.5" y="461.2" width="253.5" height="14.5" fill="#ebebeb"/>
<g clip-path="url(#c11)">
<rect x="262.9" y="466.346" width="25" height="4.508000000000001" rx="2.2540000000000004" fill="#080808" opacity="1" filter="url(#b0)"/>
<rect x="289.5" y="466.444" width="25" height="4.312000000000001" rx="2.1560000000000006" fill="#080808" opacity="1" filter="url(#b0)"/>
<rect x="313.8" y="466.444" width="25" height="4.312000000000001" rx="2.1560000000000006" fill="#080808" opacity="1" filter="url(#b0)"/>
<rect x="338.8" y="466.444" width="25" height="4.312000000000001" rx="2.1560000000000006" fill="#080808" opacity="1" filter="url(#b0)"/>
<rect x="365.5" y="466.15000000000003" width="25" height="4.9" rx="2.45" fill="#080808" opacity="1" filter="url(#b0)"/>
<rect x="391.0" y="466.15000000000003" width="25" height="4.9" rx="2.45" fill="#080808" opacity="1" filter="url(#b0)"/>
<rect x="416.0" y="466.24800000000005" width="25" height="4.704" rx="2.352" fill="#080808" opacity="1" filter="url(#b0)"/>
<rect x="441.0" y="466.24800000000005" width="25" height="4.704" rx="2.352" fill="#080808" opacity="1" filter="url(#b0)"/>
<rect x="463.05" y="465.35" width="21.5" height="4.9" rx="2.45" fill="#080808" opacity="1" filter="url(#b0)"/>
<rect x="487.5" y="465.35" width="22" height="4.9" rx="2.45" fill="#080808" opacity="1" filter="url(#b0)"/>
<rect x="260.25" y="467.5" width="252" height="2.6" rx="1.3" fill="#0a0a0a" opacity="1" filter="url(#b1)"/>
<path d="M490,468.0 L500,468.7 Q508,468.7 513.5,462.3" fill="none" stroke="#080808" stroke-width="4.655" stroke-linecap="round" filter="url(#b0)"/>
</g>
<rect x="259.5" y="461.2" width="253.5" height="14.5" fill="none" stroke="#151515" stroke-width="1.25"/>
<text x="275" y="356.5" font-size="12.5" font-weight="bold" font-style="normal" text-anchor="start" fill="#000">+ Tet (hours)</text>
<text x="398" y="356.5" font-size="12.5" font-weight="bold" font-style="normal" text-anchor="start" fill="#000">-Tet (hours)</text>
<polyline points="265.6,367.2 265.6,361.3 360.5,361.3 360.5,367.2" fill="none" stroke="#555" stroke-width="1"/>
<polyline points="367.3,367.2 367.3,361.3 510,361.3 510,367.2" fill="none" stroke="#555" stroke-width="1"/>
<g transform="translate(275.3 376.2) rotate(-45)"><text x="0" y="4.8" font-size="13.4" font-weight="bold" font-style="normal" text-anchor="middle" fill="#000">0</text></g>
<g transform="translate(302.5 376.2) rotate(-45)"><text x="0" y="4.8" font-size="13.4" font-weight="bold" font-style="normal" text-anchor="middle" fill="#000">6</text></g>
<g transform="translate(330.6 375.6) rotate(-45)"><text x="0" y="4.8" font-size="13.4" font-weight="bold" font-style="normal" text-anchor="middle" fill="#000">12</text></g>
<g transform="translate(354.5 375.6) rotate(-45)"><text x="0" y="4.8" font-size="13.4" font-weight="bold" font-style="normal" text-anchor="middle" fill="#000">24</text></g>
<g transform="translate(378.8 376.2) rotate(-45)"><text x="0" y="4.8" font-size="13.4" font-weight="bold" font-style="normal" text-anchor="middle" fill="#000">0</text></g>
<g transform="translate(404.5 376.2) rotate(-45)"><text x="0" y="4.8" font-size="13.4" font-weight="bold" font-style="normal" text-anchor="middle" fill="#000">6</text></g>
<g transform="translate(430 375.6) rotate(-45)"><text x="0" y="4.8" font-size="13.4" font-weight="bold" font-style="normal" text-anchor="middle" fill="#000">12</text></g>
<g transform="translate(455.5 375.6) rotate(-45)"><text x="0" y="4.8" font-size="13.4" font-weight="bold" font-style="normal" text-anchor="middle" fill="#000">24</text></g>
<g transform="translate(479 375.6) rotate(-45)"><text x="0" y="4.8" font-size="13.4" font-weight="bold" font-style="normal" text-anchor="middle" fill="#000">36</text></g>
<g transform="translate(502.3 375.6) rotate(-45)"><text x="0" y="4.8" font-size="13.4" font-weight="bold" font-style="normal" text-anchor="middle" fill="#000">48</text></g>
<text x="277.7" y="484.3" font-size="12.2" font-weight="bold" font-style="normal" text-anchor="end" fill="#000" transform="rotate(-47 277.7 484.3)">22.0&#177;0.3</text>
<text x="303.2" y="484.3" font-size="12.2" font-weight="bold" font-style="normal" text-anchor="end" fill="#000" transform="rotate(-47 303.2 484.3)">24.1&#177;0.6</text>
<text x="328.4" y="484.3" font-size="12.2" font-weight="bold" font-style="normal" text-anchor="end" fill="#000" transform="rotate(-47 328.4 484.3)">12.9&#177;0.3</text>
<text x="351.9" y="484.3" font-size="12.2" font-weight="bold" font-style="normal" text-anchor="end" fill="#000" transform="rotate(-47 351.9 484.3)">9.2&#177;0.2</text>
<text x="378.9" y="484.3" font-size="12.2" font-weight="bold" font-style="normal" text-anchor="end" fill="#000" transform="rotate(-47 378.9 484.3)">9.6&#177;0.0.1</text>
<text x="403.4" y="484.3" font-size="12.2" font-weight="bold" font-style="normal" text-anchor="end" fill="#000" transform="rotate(-47 403.4 484.3)">5.9&#177;0.2</text>
<text x="429.5" y="484.3" font-size="12.2" font-weight="bold" font-style="normal" text-anchor="end" fill="#000" transform="rotate(-47 429.5 484.3)">4.0&#177;0.1</text>
<text x="456.3" y="484.3" font-size="12.2" font-weight="bold" font-style="normal" text-anchor="end" fill="#000" transform="rotate(-47 456.3 484.3)">12.7&#177;3.1</text>
<text x="481.8" y="484.3" font-size="12.2" font-weight="bold" font-style="normal" text-anchor="end" fill="#000" transform="rotate(-47 481.8 484.3)">14.3&#177;2.1</text>
<text x="508.6" y="484.3" font-size="12.2" font-weight="bold" font-style="normal" text-anchor="end" fill="#000" transform="rotate(-47 508.6 484.3)">13.9&#177;2.8</text>
</svg>
</body>
</html>
